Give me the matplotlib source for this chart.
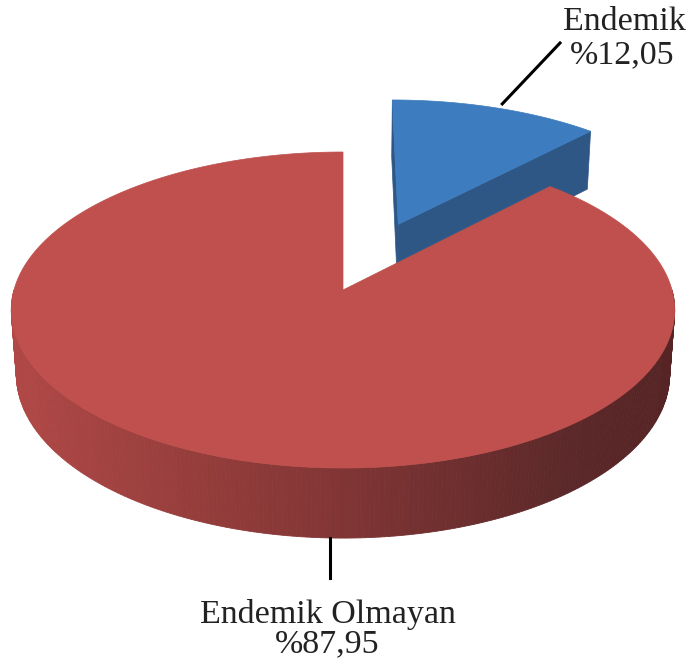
import numpy as np
import matplotlib.pyplot as plt
from matplotlib.patches import Polygon

# veriler
etiketler = ["Endemik", "Endemik Olmayan"]
oranlar = [12.05, 87.95]
ust_renk = ["#3d7cbf", "#c0504d"]
yan_renk = ["#2e5786", "#8a3a39"]
patlatma = [0.48, 0.0]

# kamera / 3B gorunum
ELEV = np.radians(28.2)
DIST = 6.96
FOCAL = 2290
KALINLIK = 0.224
CX, CY = 343, 290
BASLANGIC = 90.0

# yan duvar icin soldan saga renk gecisi (ekran x -> renk)
duvar_x = [14, 330, 570, 672]
duvar_rgb = np.array([[176, 72, 70], [130, 54, 53], [92, 40, 41], [86, 36, 37]]) / 255.0


def proj(X, Y, Z):
    c, s = np.cos(ELEV), np.sin(ELEV)
    depth = DIST + Y * c - Z * s
    up = Y * s + Z * c
    return CX + X * FOCAL / depth, CY - up * FOCAL / depth


def duvar_rengi(x):
    return [np.interp(x, duvar_x, duvar_rgb[:, k]) for k in range(3)]


fig = plt.figure(figsize=(6.9, 6.64), dpi=100)
ax = fig.add_axes([0, 0, 1, 1])
ax.set_xlim(0, 690)
ax.set_ylim(664, 0)
ax.axis("off")

toplam = sum(oranlar)
dilimler = []
a = BASLANGIC
for i, v in enumerate(oranlar):
    t1 = a
    t2 = a - v / toplam * 360.0
    orta = np.radians((t1 + t2) / 2)
    ox, oy = patlatma[i] * np.cos(orta), patlatma[i] * np.sin(orta)
    dilimler.append((t1, t2, ox, oy))
    a = t2


def kesit(ox, oy, t, renk, z=1):
    tr = np.radians(t)
    ex, ey = ox + np.cos(tr), oy + np.sin(tr)
    X = [ox, ex, ex, ox]
    Y = [oy, ey, ey, oy]
    Z = [0, 0, -KALINLIK, -KALINLIK]
    px, py = proj(np.array(X), np.array(Y), np.array(Z))
    ax.add_patch(Polygon(np.c_[px, py], closed=True, fc=renk, ec=renk, lw=0.5, zorder=z))


def ust_yuz(t1, t2, ox, oy, renk, z=1):
    th = np.radians(np.linspace(t1, t2, 300))
    X = np.r_[ox, ox + np.cos(th)]
    Y = np.r_[oy, oy + np.sin(th)]
    px, py = proj(X, Y, np.zeros_like(X))
    ax.add_patch(Polygon(np.c_[px, py], closed=True, fc=renk, ec=renk, lw=0.5, zorder=z))


def dis_duvar(t1, t2, ox, oy, z=1):
    lo, hi = min(t1, t2), max(t1, t2)
    # yalnizca one bakan kisim (-180..0 derece)
    parcalar = []
    for k in range(-1, 1):
        a0, a1 = max(lo, -180 + 360 * k), min(hi, 0 + 360 * k)
        if a1 > a0:
            parcalar.append((a0, a1))
    for a0, a1 in parcalar:
        th = np.radians(np.linspace(a0, a1, 240))
        for j in range(len(th) - 1):
            xs = ox + np.cos([th[j], th[j + 1], th[j + 1], th[j]])
            ys = oy + np.sin([th[j], th[j + 1], th[j + 1], th[j]])
            zs = np.array([0, 0, -KALINLIK, -KALINLIK])
            px, py = proj(xs, ys, zs)
            r = duvar_rengi(px.mean())
            ax.add_patch(Polygon(np.c_[px, py], closed=True, fc=r, ec=r, lw=0.6, zorder=z))


# mavi dilim (arkada) once, kirmizi dilim sonra
t1, t2, ox, oy = dilimler[0]
kesit(ox, oy, t1, yan_renk[0], z=1)
kesit(ox, oy, t2, yan_renk[0], z=1)
ust_yuz(t1, t2, ox, oy, ust_renk[0], z=2)

t1, t2, ox, oy = dilimler[1]
dis_duvar(t1, t2, ox, oy, z=3)
ust_yuz(t1, t2, ox, oy, ust_renk[1], z=4)


def yuzde(v):
    return "%" + f"{v:.2f}".replace(".", ",")


yazi = dict(family="Liberation Serif", fontsize=24.5, color="#222222", ha="center", va="baseline", zorder=6)

# Endemik etiketi ve baglanti cizgisi
t1, t2, ox, oy = dilimler[0]
orta = np.radians((t1 + t2) / 2)
bx, by = proj(ox + np.cos(orta), oy + np.sin(orta), 0.0)
ax.plot([bx + 6, 560], [by - 4, 43], color="black", lw=2.2, zorder=5)
ax.text(624, 30, etiketler[0], **yazi)
ax.text(622, 63, yuzde(oranlar[0]), **yazi)

# Endemik Olmayan etiketi
ax_x, ax_y = proj(np.cos(np.radians(-92)), np.sin(np.radians(-92)), -KALINLIK)
ax.plot([ax_x, ax_x], [ax_y, 578], color="black", lw=2.2, zorder=5)
ax.text(328, 623, etiketler[1], **yazi)
ax.text(327, 652, yuzde(oranlar[1]), **yazi)

fig.savefig("out.png", dpi=100, facecolor="white")
